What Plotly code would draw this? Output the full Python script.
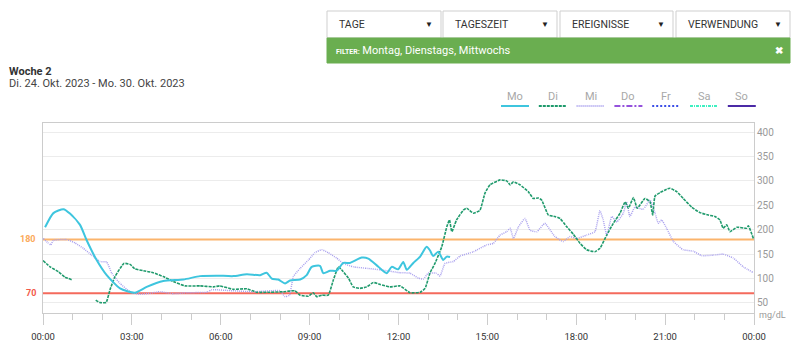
import pandas as pd
import plotly.graph_objects as go

# ---------------- data ----------------
mo_h = [0.07, 0.35, 0.69, 0.91, 1.25, 1.47, 1.81, 2.15, 2.6, 3.1, 3.5, 4.06, 4.74, 5.3, 5.86, 6.42,
        6.88, 7.33, 7.55, 7.72, 7.94, 8.17, 8.34, 8.68, 8.9, 9.07, 9.35, 9.46, 9.69, 9.91, 10.14,
        10.36, 10.76, 10.98, 11.32, 11.6, 11.77, 11.99, 12.16, 12.28, 12.5, 12.73, 12.95, 13.06,
        13.17, 13.34, 13.51, 13.63, 13.74]
mo_v = [205, 234, 242, 233, 210, 179, 138, 107, 80, 71, 83, 95, 98, 105, 106, 105,
        109, 107, 112, 100, 98, 90, 96, 98, 107, 124, 126, 111, 116, 116, 132,
        132, 143, 141, 124, 111, 124, 119, 134, 118, 132, 145, 165, 158,
        146, 155, 138, 145, 144]

di_h = [0.0, 0.24, 0.52, 0.74, 1.0, 1.4,
        1.78, 1.92, 2.13, 2.26, 2.43, 2.73, 2.94, 3.1, 3.39, 3.72, 4.06, 4.4, 4.79, 5.3, 5.75,
        5.97, 6.42, 6.88, 7.21, 7.66, 8.11, 8.5, 8.68, 8.96, 9.12, 9.24, 9.41, 9.63, 9.8, 9.97,
        10.08, 10.31, 10.47, 10.7, 10.93, 11.15, 11.38, 11.71, 12.05, 12.39, 12.73, 12.9, 13.06,
        13.23, 13.46, 13.63, 13.72, 13.8, 13.96, 14.19, 14.3, 14.53, 14.75, 14.92, 15.09, 15.43,
        15.65, 15.77, 15.88, 16.1, 16.38, 16.55, 16.72, 16.83, 17.06, 17.28, 17.45, 17.68, 17.9,
        18.13, 18.35, 18.63, 18.8, 19.03, 19.25, 19.48, 19.65, 19.76, 19.93, 20.06, 20.32, 20.49,
        20.58, 20.66, 20.83, 21.05, 21.16, 21.39, 21.61, 21.9, 22.18, 22.46, 22.68, 22.85, 22.96,
        23.08, 23.19, 23.42, 23.75, 23.81, 23.98]
di_v = [137, 124, 114, 103, 97, None,
        56, 51, 51, 77, 104, 131, 129, 120, 116, 112, 104, 94, 85, 85, 83,
        85, 78, 79, 72, 72, 73, 75, 66, 64, 71, 63, 66, 66, 97, 124,
        118, 101, 83, 80, 83, 92, 88, 83, 85, 71, 72, 80, 111,
        131, 165, 206, 220, 196, 220, 240, 244, 234, 240, 275, 292, 302,
        300, 292, 298, 292, 278, 264, 265, 261, 230, 227, 223, 206, 191,
        172, 159, 155, 162, 189, 213, 234, 257, 244, 266, 244, 264, 257,
        230, 269, 276, 283, 285, 278, 264, 246, 235, 230, 227, 220, 203,
        210, 196, 205, 203, 208, 182]

mi_h = [0.01, 0.26, 0.35, 0.8, 1.08, 1.36, 1.64, 1.92, 2.15, 2.32, 2.6, 2.94, 3.27, 3.61, 3.95,
        4.4, 4.85, 5.53, 5.7, 6.42, 7.1, 8.0, 8.17, 8.32, 8.45, 8.68, 8.96, 9.18, 9.41, 9.63,
        9.91, 10.14, 10.47, 10.93, 11.38, 12.05, 12.39, 12.67, 12.84, 13.0, 13.28, 13.4, 13.57,
        13.85, 14.08, 14.53, 14.98, 15.2, 15.43, 15.65, 15.77, 15.88, 16.05, 16.27, 16.44, 16.67,
        16.94, 17.28, 17.56, 17.79, 18.01, 18.35, 18.63, 18.8, 18.91, 19.03, 19.2, 19.37, 19.59,
        19.7, 19.81, 19.98, 20.26, 20.49, 20.66, 20.77, 20.88, 21.05, 21.28, 21.61, 21.95, 22.23,
        22.63, 22.96, 23.3, 23.64, 23.98]
mi_v = [182, 169, 178, 180, 173, 162, 148, 135, 134, 111, 90, 73, 68, 70, 73,
        69, 71, 72, 77, 75, 73, 75, 63, 66, 104, 121, 138, 153, 159, 153,
        142, 131, 124, 121, 118, 112, 111, 101, 99, 111, 111, 105, 131,
        135, 146, 155, 169, 172, 189, 196, 203, 182, 206, 223, 199, 196,
        213, 186, 176, 186, 182, 189, 196, 239, 220, 189, 227, 216, 234,
        257, 227, 246, 242, 261, 234, 213, 220, 203, 176, 159, 156, 147,
        148, 150, 142, 124, 112]

days = ["Mo", "Di", "Mi", "Do", "Fr", "Sa", "So"]
day_colors = ["#3ec5de", "#1f9a6c", "#aaa1ee", "#9552dc", "#3b4ee6", "#3ff0c2", "#4b2aa6"]
day_dashes = ["solid", "3px,1px", "1px,1px", "6px,2px,2px,2px", "2px,2px", "3px,1px,1px,1px", "solid"]

hi_limit, lo_limit = 180, 70
y_ticks = [50, 100, 150, 200, 250, 300, 350, 400]
dropdowns = ["TAGE", "TAGESZEIT", "EREIGNISSE", "VERWENDUNG"]
filter_text = "Montag, Dienstags, Mittwochs"
title_main = "Woche 2"
title_sub = "Di. 24. Okt. 2023 - Mo. 30. Okt. 2023"

# ---------------- figure ----------------
base = pd.Timestamp("2023-10-24")
def tx(hours):
    return [base + pd.Timedelta(hours=h) for h in hours]

O = 8  # page offset of the figure (body margin)
W, H = 792, 352
L = 43 - O
T = 123 - O
R = W - (754 - O)
B = H - (313 - O)
PW, PH = W - L - R, H - T - B
def px(x):  # page pixel x -> paper
    return (x - O - L) / PW
def py(y):  # page pixel y -> paper
    return (H - B - (y - O)) / PH

FONT = "Roboto, Arial, sans-serif"
fig = go.Figure()

fig.add_trace(go.Scatter(x=tx(mi_h), y=mi_v, mode="lines", name="Mi",
                         line=dict(color=day_colors[2], width=1.5, dash=day_dashes[2],
                                   shape="spline", smoothing=0.4)))
fig.add_trace(go.Scatter(x=tx(di_h), y=di_v, mode="lines", name="Di", connectgaps=False,
                         line=dict(color=day_colors[1], width=1.6, dash=day_dashes[1],
                                   shape="spline", smoothing=0.4)))
fig.add_trace(go.Scatter(x=tx(mo_h), y=mo_v, mode="lines", name="Mo",
                         line=dict(color=day_colors[0], width=2, shape="spline", smoothing=0.6)))

shapes = []
annotations = []
# threshold lines
shapes.append(dict(type="line", xref="paper", x0=0, x1=1, yref="y", y0=hi_limit, y1=hi_limit,
                   line=dict(color="#fbb46c", width=2), layer="below"))
shapes.append(dict(type="line", xref="paper", x0=0, x1=1, yref="y", y0=lo_limit, y1=lo_limit,
                   line=dict(color="#f46a5c", width=2), layer="below"))
annotations.append(dict(xref="paper", yref="y", x=px(38), y=hi_limit, text="<b>%d</b>" % hi_limit,
                        showarrow=False, xanchor="right", font=dict(color="#fba95a", size=9, family=FONT)))
annotations.append(dict(xref="paper", yref="y", x=px(38), y=lo_limit, text="<b>%d</b>" % lo_limit,
                        showarrow=False, xanchor="right", font=dict(color="#f25a4a", size=9, family=FONT)))
annotations.append(dict(xref="paper", yref="paper", x=px(757), y=py(315), text="mg/dL",
                        showarrow=False, xanchor="left", yanchor="middle",
                        font=dict(color="#999", size=9, family=FONT)))

# title
annotations.append(dict(xref="paper", yref="paper", x=px(6.5), y=py(71.5), text="<b>" + title_main + "</b>",
                        showarrow=False, xanchor="left", yanchor="middle",
                        font=dict(color="#333", size=11, family=FONT)))
annotations.append(dict(xref="paper", yref="paper", x=px(6.5), y=py(83.5), text=title_sub,
                        showarrow=False, xanchor="left", yanchor="middle",
                        font=dict(color="#444", size=11, family=FONT)))

# legend (custom)
for i, d in enumerate(days):
    cx = 515 + i * 37.8
    annotations.append(dict(xref="paper", yref="paper", x=px(cx), y=py(96), text=d, showarrow=False,
                            xanchor="center", yanchor="middle",
                            font=dict(color="#a8a8a8", size=11, family=FONT)))
    shapes.append(dict(type="line", xref="paper", yref="paper", x0=px(cx - 14), x1=px(cx + 14),
                       y0=py(106), y1=py(106),
                       line=dict(color=day_colors[i], width=2, dash=day_dashes[i])))

# dropdowns
box_x = [(327, 441), (443, 557), (560, 673), (676, 790)]
for (x0, x1), lab in zip(box_x, dropdowns):
    shapes.append(dict(type="rect", xref="paper", yref="paper", x0=px(x0), x1=px(x1),
                       y0=py(38), y1=py(11), fillcolor="white",
                       line=dict(color="#cfcfcf", width=1)))
    annotations.append(dict(xref="paper", yref="paper", x=px(x0 + 10), y=py(24.5), text=lab,
                            showarrow=False, xanchor="left", yanchor="middle",
                            font=dict(color="#333", size=10.5, family=FONT)))
    annotations.append(dict(xref="paper", yref="paper", x=px(x1 - 12), y=py(24.5), text="▼",
                            showarrow=False, xanchor="center", yanchor="middle",
                            font=dict(color="#222", size=8, family=FONT)))
# filter bar
shapes.append(dict(type="rect", xref="paper", yref="paper", x0=px(327), x1=px(790),
                   y0=py(63), y1=py(38), fillcolor="#6aae50", line=dict(color="#6aae50", width=1)))
annotations.append(dict(xref="paper", yref="paper", x=px(334), y=py(50.5),
                        text="<b><span style='font-size:7px'>FILTER:</span></b> " + filter_text,
                        showarrow=False, xanchor="left", yanchor="middle",
                        font=dict(color="white", size=11, family=FONT)))
annotations.append(dict(xref="paper", yref="paper", x=px(779), y=py(50.5), text="<b>✖</b>",
                        showarrow=False, xanchor="center", yanchor="middle",
                        font=dict(color="white", size=10, family=FONT)))

fig.update_layout(
    width=W, height=H,
    margin=dict(l=L, r=R, t=T, b=B),
    paper_bgcolor="white", plot_bgcolor="white",
    showlegend=False,
    font=dict(family=FONT),
    shapes=shapes, annotations=annotations,
    xaxis=dict(type="date", range=[base, base + pd.Timedelta(hours=24)],
               tickformat="%H:%M", dtick=3 * 3600000, tick0=base,
               ticks="outside", ticklen=11, tickcolor="#cccccc", tickwidth=1,
               ticklabelstandoff=4,
               showgrid=False, zeroline=False, showline=True, linecolor="#cccccc", mirror=True,
               tickfont=dict(color="#333", size=9.5, family=FONT),
               minor=dict(dtick=3600000, tick0=base, ticks="outside", ticklen=6,
                          tickcolor="#cccccc", showgrid=False)),
    yaxis=dict(range=[29.5, 418.5], side="right", tickvals=y_ticks, ticks="",
               showgrid=True, gridcolor="#ececec", gridwidth=1, zeroline=False,
               showline=True, linecolor="#cccccc", mirror=True,
               tickfont=dict(color="#999", size=10, family=FONT)),
)

fig.write_html("out.html", config={"displayModeBar": False})
